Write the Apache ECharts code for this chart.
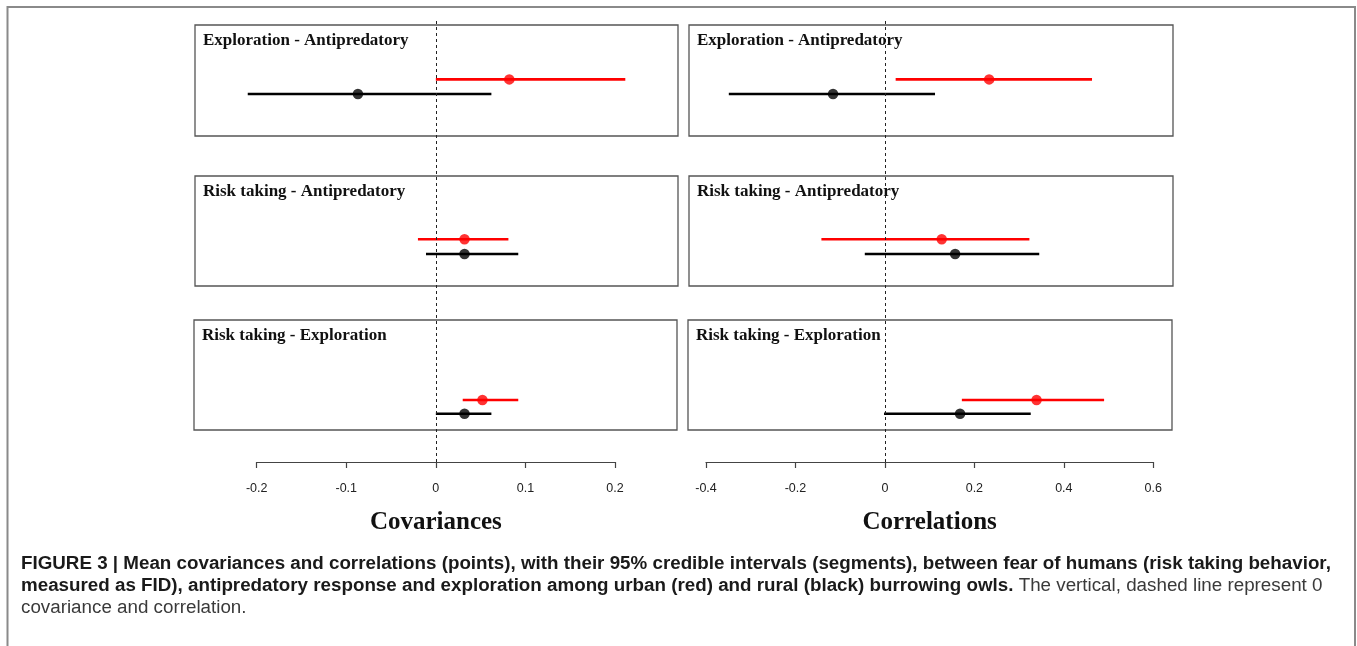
<!DOCTYPE html>
<html>
<head>
<meta charset="utf-8">
<script src="https://cdn.jsdelivr.net/npm/echarts@6/dist/echarts.min.js"></script>
<style>
  html, body { margin: 0; padding: 0; background: #fff; }
  #chart { width: 1357px; height: 646px; }
</style>
</head>
<body>
<div id="chart"></div>
<script>
// ---------------- data ----------------
const panelTitles = ['Exploration - Antipredatory', 'Risk taking - Antipredatory', 'Risk taking - Exploration'];
const axisTitles = ['Covariances', 'Correlations'];

// Covariances
const covUrbanMean = [0.082, 0.032, 0.052];
const covUrbanLow  = [0.000, -0.020, 0.030];
const covUrbanHigh = [0.2115, 0.081, 0.092];
const covRuralMean = [-0.087, 0.032, 0.032];
const covRuralLow  = [-0.210, -0.011, 0.000];
const covRuralHigh = [0.062, 0.092, 0.062];

// Correlations
const corUrbanMean = [0.233, 0.127, 0.339];
const corUrbanLow  = [0.024, -0.142, 0.172];
const corUrbanHigh = [0.463, 0.323, 0.490];
const corRuralMean = [-0.116, 0.157, 0.168];
const corRuralLow  = [-0.349, -0.045, -0.002];
const corRuralHigh = [0.112, 0.345, 0.326];

// vertical level of each group inside each panel (0 = top, 1 = bottom)
const urbanLevel = [0.49, 0.575, 0.727];
const ruralLevel = [0.622, 0.709, 0.852];

// axis tick ranges
const covTicks = { min: -0.2, max: 0.2, step: 0.1 };
const corTicks = { min: -0.4, max: 0.6, step: 0.2 };

// caption
const captionBold1 = 'FIGURE 3 | Mean covariances and correlations (points), with their 95% credible intervals (segments), between fear of humans (risk taking behavior,';
const captionBold2 = 'measured as FID), antipredatory response and exploration among urban (red) and rural (black) burrowing owls.';
const captionReg2 = ' The vertical, dashed line represent 0';
const captionReg3 = 'covariance and correlation.';

// ---------------- layout ----------------
const URBAN = '#ff0000', RURAL = '#000000';
const columns = [
  { panels: [[195, 25, 678, 136], [195, 176, 678, 286], [194, 320, 677, 430]],
    axis: [256.7, 615], ticks: covTicks, title: axisTitles[0],
    urban: [covUrbanLow, covUrbanMean, covUrbanHigh], rural: [covRuralLow, covRuralMean, covRuralHigh] },
  { panels: [[689, 25, 1173, 136], [689, 176, 1173, 286], [688, 320, 1172, 430]],
    axis: [706, 1153.3], ticks: corTicks, title: axisTitles[1],
    urban: [corUrbanLow, corUrbanMean, corUrbanHigh], rural: [corRuralLow, corRuralMean, corRuralHigh] }
];
const AXIS_Y = 462;

const grid = [], xAxis = [], yAxis = [], series = [], graphic = [];

function valueRange(col, x0, x1) {
  const [a0, a1] = col.axis;
  const scale = (a1 - a0) / (col.ticks.max - col.ticks.min);
  return { min: col.ticks.min + (x0 - a0) / scale, max: col.ticks.min + (x1 - a0) / scale };
}

columns.forEach((col, ci) => {
  col.panels.forEach((p, pi) => {
    const gi = grid.length;
    grid.push({ left: p[0], top: p[1], width: p[2] - p[0], height: p[3] - p[1],
      show: true, borderColor: '#555', borderWidth: 1.3, backgroundColor: '#fff', z: 1 });
    const r = valueRange(col, p[0], p[2]);
    xAxis.push({ gridIndex: gi, type: 'value', min: r.min, max: r.max, show: false });
    yAxis.push({ gridIndex: gi, type: 'value', min: 0, max: 1, inverse: true, show: false });
    const groups = [
      { c: URBAN, d: col.urban, lv: urbanLevel[pi] },
      { c: RURAL, d: col.rural, lv: ruralLevel[pi] }
    ];
    groups.forEach(g => {
      series.push({ type: 'line', xAxisIndex: gi, yAxisIndex: gi, silent: true,
        data: [[g.d[0][pi], g.lv], [g.d[2][pi], g.lv]], showSymbol: false, symbol: 'none',
        lineStyle: { color: g.c, width: 2.6 }, z: 3, animation: false });
      series.push({ type: 'scatter', xAxisIndex: gi, yAxisIndex: gi, silent: true,
        data: [[g.d[1][pi], g.lv]], symbol: 'circle', symbolSize: 10.5,
        itemStyle: { color: g.c }, z: 4, animation: false });
    });
    graphic.push({ type: 'text', left: p[0] + 8, top: p[1] + 7, z: 10,
      style: { text: panelTitles[pi], font: 'bold 17px "Liberation Serif", "Times New Roman", serif', fill: '#111' } });
  });

  // overlay grid for the dashed zero line
  const p0 = col.panels[0];
  const oi = grid.length;
  grid.push({ left: p0[0], top: 19, width: p0[2] - p0[0], height: AXIS_Y - 19, show: false, z: 5 });
  const r0 = valueRange(col, p0[0], p0[2]);
  xAxis.push({ gridIndex: oi, type: 'value', min: r0.min, max: r0.max, show: false });
  yAxis.push({ gridIndex: oi, type: 'value', min: 0, max: 1, show: false });
  series.push({ type: 'line', xAxisIndex: oi, yAxisIndex: oi, data: [], silent: true, z: 5,
    markLine: { silent: true, symbol: 'none', animation: false, label: { show: false },
      lineStyle: { color: '#222', width: 1, type: [3, 3] }, data: [{ xAxis: 0 }] } });

  // bottom axis
  const ai = grid.length;
  grid.push({ left: col.axis[0], top: AXIS_Y - 1, width: col.axis[1] - col.axis[0], height: 1, show: false });
  xAxis.push({ gridIndex: ai, type: 'value', position: 'bottom', min: col.ticks.min, max: col.ticks.max,
    interval: col.ticks.step, splitLine: { show: false },
    axisLine: { show: true, onZero: false, lineStyle: { color: '#444', width: 1.2 } },
    axisTick: { show: true, length: 6, lineStyle: { color: '#444', width: 1.2 } },
    axisLabel: { margin: 20, fontSize: 12.5, color: '#222', fontFamily: '"Liberation Sans", Arial, sans-serif' },
    name: col.title, nameLocation: 'middle', nameGap: 48,
    nameTextStyle: { fontSize: 25, fontWeight: 'bold', color: '#111', fontFamily: '"Liberation Serif", "Times New Roman", serif' } });
  yAxis.push({ gridIndex: ai, type: 'value', show: false });
});

// outer frame (left, top, right)
graphic.push({ type: 'polyline', silent: true, z: 0,
  shape: { points: [[7.5, 660], [7.5, 7], [1355, 7], [1355, 660]] },
  style: { stroke: '#8a8a8a', lineWidth: 2, fill: null } });

// caption: size chosen so the first line spans the same width as in the figure
const capFont = '"Liberation Sans", Arial, Helvetica, sans-serif';
const mctx = document.createElement('canvas').getContext('2d');
mctx.font = 'bold 100px ' + capFont;
const capSize = Math.round(1310 / mctx.measureText(captionBold1).width * 100 * 10) / 10;
const capRich = {
  b: { fontFamily: capFont, fontSize: capSize, fontWeight: 'bold', fill: '#1a1a1a' },
  r: { fontFamily: capFont, fontSize: capSize, fill: '#3a3a3a' }
};
const capLines = [
  '{b|' + captionBold1 + '}',
  '{b|' + captionBold2 + '}{r|' + captionReg2 + '}',
  '{r|' + captionReg3 + '}'
];
const capY = [565, 587, 609];
capLines.forEach((t, i) => {
  graphic.push({ type: 'text', left: 21, top: capY[i] - capSize / 2 - 1, z: 10,
    style: { text: t, rich: capRich, fontFamily: capFont, fontSize: capSize } });
});

const chart = echarts.init(document.getElementById('chart'), null, { renderer: 'canvas' });
chart.setOption({ animation: false, backgroundColor: '#fff', grid, xAxis, yAxis, series, graphic });
</script>
</body>
</html>
